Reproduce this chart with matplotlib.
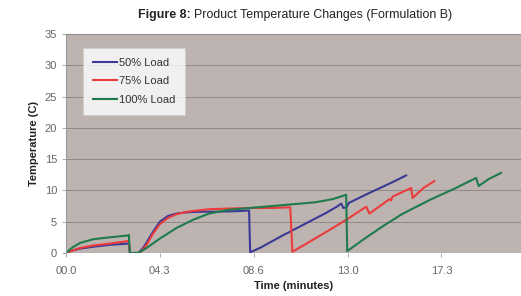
import matplotlib
matplotlib.use("Agg")
import matplotlib.pyplot as plt

# data (minutes, degrees C)
t50 = [0, 0.3, 0.65, 1.25, 2.0, 2.86, 2.9, 2.95, 3.35, 3.6, 4.0, 4.33, 4.7, 5.1, 5.6, 6.2, 7.0, 8.0, 8.45, 8.5,
       9.0, 10.0, 11.0, 12.0, 12.5, 12.7, 12.8, 12.95, 13.05, 14.0, 15.0, 15.7]
y50 = [0, 0.4, 0.7, 1.0, 1.3, 1.5, 1.6, 0.0, 0.0, 1.0, 3.3, 5.0, 5.9, 6.3, 6.5, 6.6, 6.6, 6.7, 6.8, 0.1,
       0.9, 2.8, 4.6, 6.4, 7.4, 7.9, 7.2, 7.3, 8.0, 9.6, 11.2, 12.4]

t75 = [0, 0.3, 0.65, 1.25, 2.0, 2.86, 2.9, 2.95, 3.4, 3.7, 4.0, 4.33, 4.7, 5.1, 5.6, 6.6, 7.5, 8.5, 9.5, 10.35, 10.45,
       11.0, 12.17, 12.93, 13.86, 14.0, 14.93, 15.0, 15.07, 15.93, 16.0, 16.5, 17.0]
y75 = [0, 0.4, 0.8, 1.2, 1.5, 1.9, 2.0, 0.0, 0.0, 1.2, 3.0, 4.6, 5.6, 6.2, 6.6, 7.0, 7.1, 7.2, 7.2, 7.3, 0.2,
       1.3, 3.7, 5.3, 7.4, 6.3, 8.6, 8.4, 9.0, 10.4, 8.8, 10.4, 11.5]

t100 = [0, 0.3, 0.65, 1.25, 2.0, 2.86, 2.9, 2.95, 3.35, 3.8, 4.33, 5.1, 5.86, 6.6, 7.5, 8.5, 9.5, 10.5, 11.5, 12.3, 12.93, 12.98,
        13.7, 14.5, 15.5, 16.8, 18.0, 18.93, 19.05, 19.5, 20.08]
y100 = [0, 0.9, 1.6, 2.2, 2.5, 2.8, 2.9, 0.0, 0.0, 1.0, 2.3, 4.0, 5.3, 6.3, 6.9, 7.2, 7.5, 7.8, 8.1, 8.6, 9.3, 0.3,
        2.1, 4.0, 6.2, 8.5, 10.4, 12.0, 10.7, 11.8, 12.8]

xticks = [0, 4.33, 8.67, 13.0, 17.33]
xticklabels = ["00.0", "04.3", "08.6", "13.0", "17.3"]
yticks = [0, 5, 10, 15, 20, 25, 30, 35]

plt.rcParams['font.family'] = ['Liberation Sans', 'DejaVu Sans']
fig = plt.figure(figsize=(5.21, 2.96), dpi=100)
ax = fig.add_axes([66/521, 1-253/296, 1-66/521, (253-34)/296])
ax.set_facecolor('#bdb4b1')
fig.patch.set_facecolor('white')

ax.plot(t50, y50, color='#3a3a96', lw=1.5, label='50% Load')
ax.plot(t75, y75, color='#ec3b3b', lw=1.5, label='75% Load')
ax.plot(t100, y100, color='#1f7a4c', lw=1.5, label='100% Load')

ax.set_xlim(0, 21)
ax.set_ylim(0, 35)
ax.set_xticks(xticks)
ax.set_xticklabels(xticklabels)
ax.set_yticks(yticks)
ax.yaxis.grid(True, color='#8e8888', lw=0.7)
ax.set_axisbelow(True)
for s in ['top', 'right', 'bottom']:
    ax.spines[s].set_visible(False)
ax.spines['left'].set_color('#9a9a9a')
ax.tick_params(axis='both', labelsize=8, colors='#9a9a9a', labelcolor='#666666', length=3, width=0.6)
ax.tick_params(axis='x', pad=6)

ax.set_xlabel('Time (minutes)', fontsize=8, fontweight='bold', color='#222222', labelpad=4)
ax.set_ylabel('Temperature (C)', fontsize=8, fontweight='bold', color='#222222', labelpad=4)

leg = ax.legend(loc='upper left', bbox_to_anchor=(17/455, 1-14/219), fontsize=8, frameon=True,
                fancybox=False, handlelength=2.2, handletextpad=0.15, borderpad=0.9, labelspacing=0.75,
                borderaxespad=0)
leg.get_frame().set_facecolor('white')
leg.get_frame().set_edgecolor('#cccccc')
leg.get_frame().set_linewidth(0.5)
for txt in leg.get_texts():
    txt.set_color('#333333')

fig.text(194/521, 0.948, 'Figure 8: ', fontsize=8.9, fontweight='bold', ha='right', va='center', color='#222222')
fig.text(194/521, 0.948, 'Product Temperature Changes (Formulation B)', fontsize=8.9, ha='left', va='center', color='#222222')

fig.savefig('out.png', dpi=100)
